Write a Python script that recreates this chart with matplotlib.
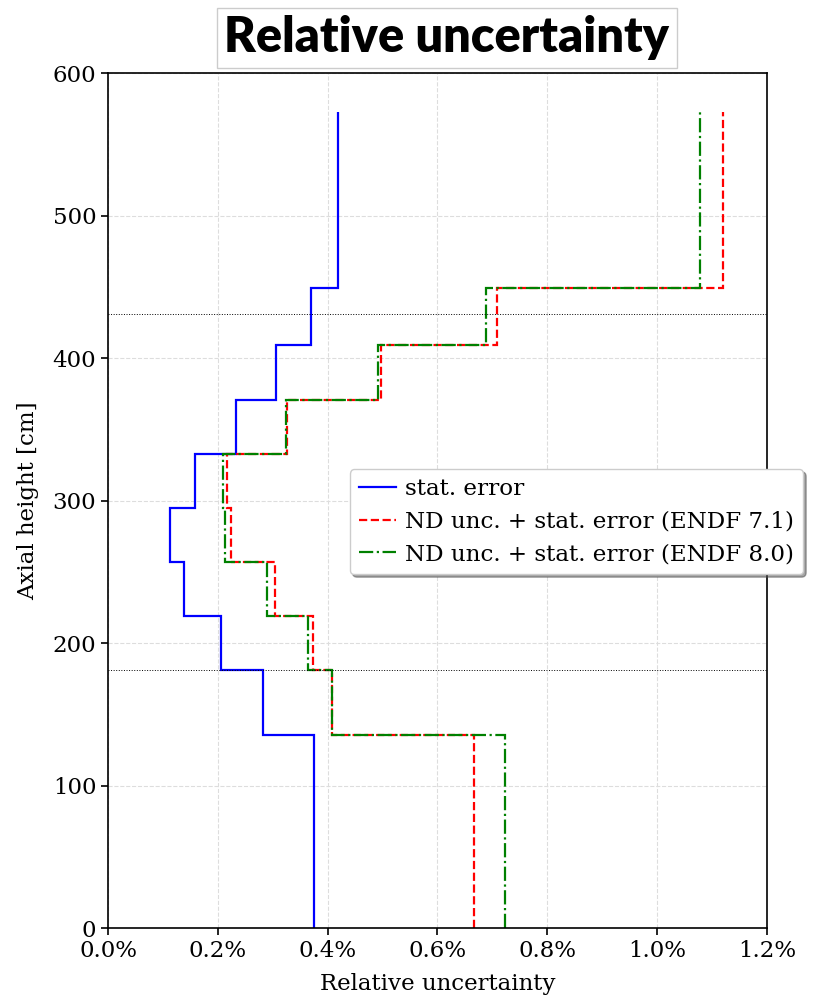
import numpy as np
import matplotlib
matplotlib.use("Agg")
import matplotlib.pyplot as plt
from matplotlib.ticker import PercentFormatter

# axial zone edges [cm]
edges = [0, 136, 181, 219, 257, 295, 333, 371, 409, 449, 573]

# relative uncertainty per zone [%]
stat_err = [0.3745, 0.282, 0.2067, 0.138, 0.1132, 0.1593, 0.2329, 0.3058, 0.369, 0.4188]
endf71 = [0.6668, 0.4086, 0.3733, 0.305, 0.2232, 0.2159, 0.3253, 0.498, 0.7087, 1.120]
endf80 = [0.724, 0.4086, 0.364, 0.290, 0.214, 0.209, 0.3240, 0.4918, 0.689, 1.078]

# core boundaries (dotted lines)
core_lines = [181, 431]

plt.rcParams['font.family'] = 'DejaVu Serif'

fig = plt.figure(figsize=(8.17, 9.97), dpi=100)
ax = fig.add_axes([0.1322, 0.0689, 0.8063, 0.8576])

ax.stairs(stat_err, edges, orientation='horizontal', baseline=None,
          color='blue', linestyle='-', linewidth=1.6, label='stat. error')
ax.stairs(endf71, edges, orientation='horizontal', baseline=None,
          color='red', linestyle='--', linewidth=1.6,
          label='ND unc. + stat. error (ENDF 7.1)')
ax.stairs(endf80, edges, orientation='horizontal', baseline=None,
          color='green', linestyle='-.', linewidth=1.6,
          label='ND unc. + stat. error (ENDF 8.0)')

for h in core_lines:
    ax.axhline(h, color='black', linestyle=':', linewidth=0.7)

ax.set_xlim(0, 1.2)
ax.set_ylim(0, 600)
ax.set_xticks(np.arange(0, 1.21, 0.2))
ax.set_yticks(np.arange(0, 601, 100))
ax.xaxis.set_major_formatter(PercentFormatter(xmax=100, decimals=1))
ax.tick_params(labelsize=16.5, width=1.2, length=5)
for s in ax.spines.values():
    s.set_linewidth(1.2)
ax.grid(True, linestyle='--', color='#dddddd', linewidth=0.8)
ax.set_axisbelow(True)

ax.set_xlabel('Relative uncertainty', fontsize=16.5, labelpad=8)
ax.set_ylabel('Axial height [cm]', fontsize=16.5, labelpad=10)

ax.legend(loc='upper left', bbox_to_anchor=(0.367, 0.537), borderaxespad=0,
          fontsize=16.6, shadow=True, fancybox=True, framealpha=1,
          handlelength=1.6, handletextpad=0.4, labelspacing=0.45)

fig.text(0.547, 0.962, 'Relative uncertainty', ha='center', va='center',
         family=['Lato', 'DejaVu Sans'], fontweight='heavy', fontsize=35,
         bbox=dict(facecolor='white', edgecolor='#cccccc', linewidth=1,
                   boxstyle='square,pad=0.15'))

fig.savefig('out.png', dpi=100)
